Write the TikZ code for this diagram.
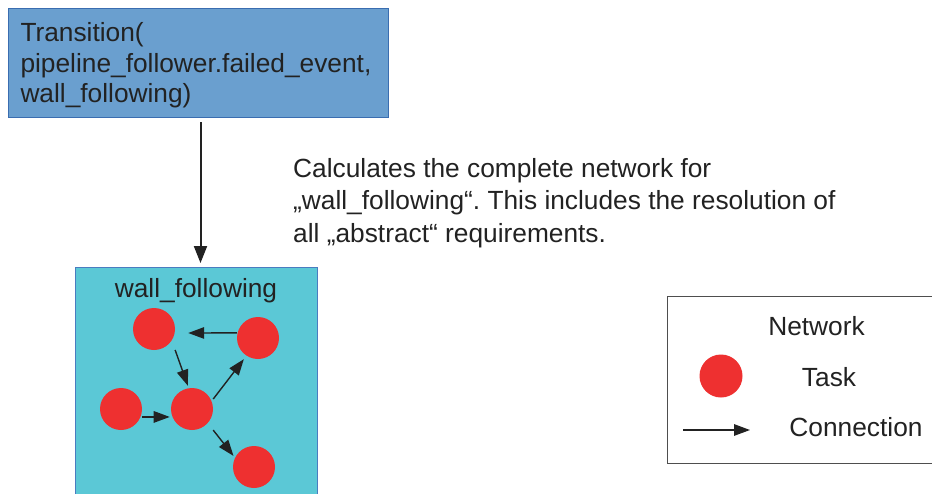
\documentclass[tikz,border=0pt]{standalone}
\usepackage{fontspec}
\setmainfont{Liberation Sans}
\usetikzlibrary{arrows.meta}
\frenchspacing

\definecolor{transfill}{HTML}{6A9FCF}
\definecolor{transline}{HTML}{3A6DB0}
\definecolor{netfill}{HTML}{5BC8D6}
\definecolor{netline}{HTML}{4A7CC0}
\definecolor{taskred}{HTML}{EE3030}
\definecolor{ink}{HTML}{222222}

\tikzset{
  bigtext/.style={font=\fontsize{26.3}{30.5}\selectfont, text=ink},
  task/.style={circle, fill=taskred, draw=none, minimum size=42pt, inner sep=0pt},
  arr/.style={draw=ink, line width=1.4pt, -{Triangle[length=16pt,width=11.5pt]}},
  bigarr/.style={draw=ink, line width=2pt, -{Triangle[length=17pt,width=13pt]}},
}

\begin{document}
\begin{tikzpicture}[x=1pt,y=-1pt]
\useasboundingbox (0,0) rectangle (932,493);
\clip (0,0) rectangle (932,493);
\fill[white] (0,0) rectangle (932,493);

% transition box
\node[bigtext, anchor=north west, fill=transfill, draw=transline, line width=1pt,
      minimum width=380pt, minimum height=109pt, text width=356pt,
      inner xsep=12pt, inner ysep=0pt, align=left] (trans) at (8,8)
  {\rule{0pt}{23.5pt}Transition(\\pipeline\_follower.failed\_event,\\wall\_following)};

% explanation
\node[bigtext, font=\fontsize{26.3}{32.5}\selectfont, anchor=north west, inner sep=0pt, align=left] (desc) at (293,158)
  {Calculates the complete network for\\„wall\_following“. This includes the resolution of\\all „abstract“ requirements.};

% network box
\node[fill=netfill, draw=netline, line width=1pt, minimum width=242pt, minimum height=260pt,
      anchor=north west, inner sep=0pt] (net) at (75,267) {};
\node[bigtext, anchor=base] (nettitle) at (196,297) {wall\_following};

\draw[bigarr, shorten <=4pt, shorten >=4pt] ([xshift=2pt]trans.south) -- ([xshift=2pt]trans.south |- net.north);

% tasks
\node[task] (c1) at (154,329) {};
\node[task] (c2) at (258,338) {};
\node[task] (c3) at (121,409) {};
\node[task] (c4) at (192,409) {};
\node[task] (c5) at (254,467) {};

% connections
\draw[arr, shorten <=0.6pt, shorten >=13.4pt] (c2.166) -- (c1.349);
\draw[arr, shorten <=10pt, shorten >=2.4pt] (c1.327) -- (c4.99);
\draw[arr, shorten <=1.6pt, shorten >=2.6pt] (c3.338) -- (c4.202);
\draw[arr, shorten <=2.6pt, shorten >=4.3pt] (c4.22) -- (c2.237);
\draw[arr, shorten <=8.8pt, shorten >=2.3pt] (c4.318) -- (c5.154);

% legend
\node[draw=ink!80, line width=1.3pt, fill=white, minimum width=280pt, minimum height=167pt,
      anchor=north west, inner sep=0pt] (legend) at (667,296) {};
\node[bigtext, anchor=base] (lnet) at (816.5,335) {Network};
\node[task, minimum size=43pt] (ltask) at (721,376) {};
\node[bigtext, anchor=base] (ltasktext) at (829,386) {Task};
\coordinate (la) at (683,430);
\coordinate (lb) at (750,430);
\draw[arr] (la) -- (lb);
\node[bigtext, anchor=base] (lconn) at (856,436) {Connection};
\end{tikzpicture}
\end{document}
